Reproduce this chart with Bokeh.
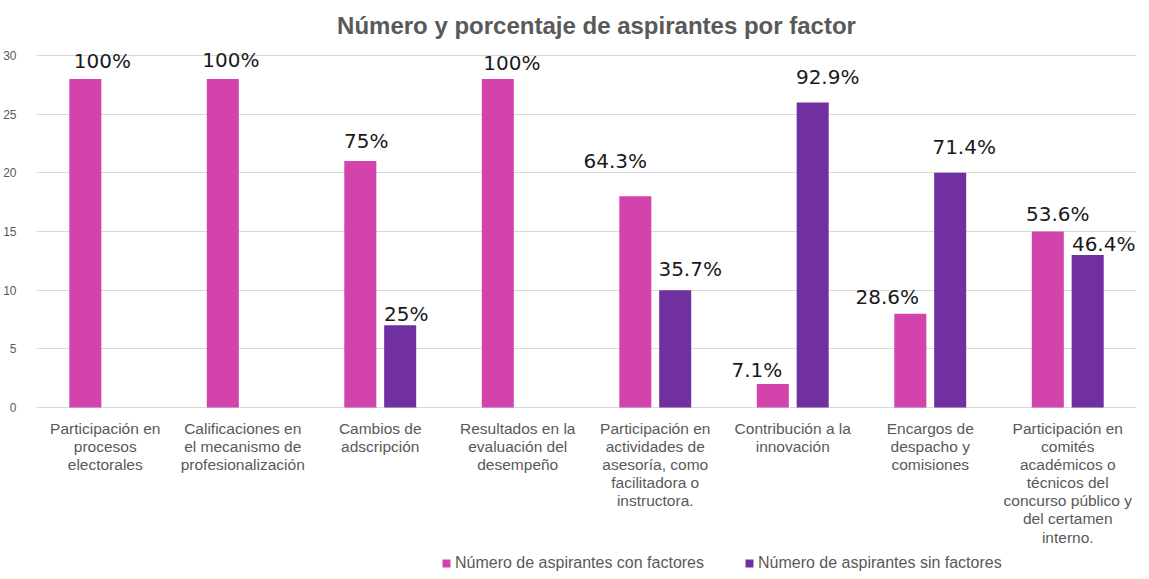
from bokeh.plotting import figure
from bokeh.models import ColumnDataSource, FactorRange, Range1d, Legend, LegendItem, FixedTicker, Label
from bokeh.transform import dodge
from bokeh.core.properties import value
from bokeh.embed import file_html
from bokeh.resources import INLINE

# ---- data ----
title_text = "Número y porcentaje de aspirantes por factor"
categories = [
    "Participación en\nprocesos\nelectorales",
    "Calificaciones en\nel mecanismo de\nprofesionalización",
    "Cambios de\nadscripción",
    "Resultados en la\nevaluación del\ndesempeño",
    "Participación en\nactividades de\nasesoría, como\nfacilitadora o\ninstructora.",
    "Contribución a la\ninnovación",
    "Encargos de\ndespacho y\ncomisiones",
    "Participación en\ncomités\nacadémicos o\ntécnicos del\nconcurso público y\ndel certamen\ninterno.",
]
con_factores = [28, 28, 21, 28, 18, 2, 8, 15]
sin_factores = [0, 0, 7, 0, 10, 26, 20, 13]
pct_con = ["100%", "100%", "75%", "100%", "64.3%", "7.1%", "28.6%", "53.6%"]
pct_sin = ["", "", "25%", "", "35.7%", "92.9%", "71.4%", "46.4%"]
y_ticks = [0, 5, 10, 15, 20, 25, 30]

series_names = ["Número de aspirantes con factores", "Número de aspirantes sin factores"]

# ---- style (label nudges in screen pixels) ----
PINK = "#D244AB"
PURPLE = "#7030A0"
GRAY = "#595959"
con_dx = [17, 8, 6, 14, -20, -16, -23, 10]
con_dy = [18, 19, 20, 16, 35, 14, 17, 18]
sin_dx = [0, 0, 6, 0, 15, 15, 14, 16]
sin_dy = [0, 0, 11, 0, 21, 25, 26, 11]

src = ColumnDataSource(dict(cat=categories, con=con_factores, sin=sin_factores,
                            pcon=pct_con, psin=pct_sin,
                            cdx=con_dx, cdy=[-d for d in con_dy],
                            sdx=sin_dx, sdy=[-d for d in sin_dy]))

PX_PER_UNIT = 352 / 30.0
ZERO_PX = 407          # distance of the zero line from the frame top
FRAME_H = 574          # frame extends below zero to hold category labels and legend
p = figure(frame_width=1100, frame_height=FRAME_H, title=None,
           x_range=FactorRange(factors=categories, range_padding=0),
           y_range=Range1d(-(FRAME_H - ZERO_PX) / PX_PER_UNIT, ZERO_PX / PX_PER_UNIT),
           output_backend="svg", toolbar_location=None,
           min_border_left=0, min_border_right=3, min_border_top=0, min_border_bottom=0)
p.outline_line_color = None

# title drawn inside the frame area
p.add_layout(Label(x=len(categories) / 2, y=(ZERO_PX - 25) / PX_PER_UNIT, x_offset=10,
                   text=title_text, text_align="center", text_baseline="middle",
                   text_font="Liberation Sans", text_font_size="24px",
                   text_font_style="bold", text_color=GRAY))

OFF = 0.145
W = 0.233
r1 = p.vbar(x=dodge("cat", -OFF, range=p.x_range), top="con", width=W, source=src,
            fill_color=PINK, line_color=None)
r2 = p.vbar(x=dodge("cat", OFF, range=p.x_range), top="sin", width=W, source=src,
            fill_color=PURPLE, line_color=None)

p.text(x=dodge("cat", -OFF, range=p.x_range), y="con", text="pcon", source=src,
       x_offset="cdx", y_offset="cdy", text_align="center", text_baseline="middle",
       text_font=value("DejaVu Sans"), text_font_size="20px", text_color="#1a1a1a")
p.text(x=dodge("cat", OFF, range=p.x_range), y="sin", text="psin", source=src,
       x_offset="sdx", y_offset="sdy", text_align="center", text_baseline="middle",
       text_font=value("DejaVu Sans"), text_font_size="20px", text_color="#1a1a1a")

# category labels under the zero line
p.text(x="cat", y=0, text="cat", source=src, y_offset=12,
       text_align="center", text_baseline="top", text_line_height=1.07,
       text_font=value("Liberation Sans"), text_font_size="15.5px", text_color=GRAY)

# axes
p.yaxis.ticker = FixedTicker(ticks=y_ticks)
p.yaxis.axis_line_color = None
p.yaxis.major_tick_line_color = None
p.yaxis.minor_tick_line_color = None
p.yaxis.major_tick_out = 0
p.yaxis.major_tick_in = 0
p.yaxis.major_label_text_font = "Liberation Sans"
p.yaxis.major_label_text_font_size = "12px"
p.yaxis.major_label_text_color = GRAY
p.yaxis.major_label_standoff = 20

p.xaxis.visible = False

p.xgrid.grid_line_color = None
p.ygrid.ticker = FixedTicker(ticks=y_ticks)
p.ygrid.grid_line_color = "#D9D9D9"
p.ygrid.grid_line_width = 1

legend = Legend(items=[LegendItem(label=series_names[0], renderers=[r1]),
                       LegendItem(label=series_names[1], renderers=[r2])],
                orientation="horizontal", location=(405, 2),
                glyph_width=10, glyph_height=10, label_standoff=4, spacing=40,
                label_text_font="Liberation Sans", label_text_font_size="16px",
                label_text_color=GRAY, border_line_color=None, background_fill_alpha=0,
                padding=0, margin=0)
p.add_layout(legend, "center")

open("out.html", "w").write(file_html(p, INLINE))
